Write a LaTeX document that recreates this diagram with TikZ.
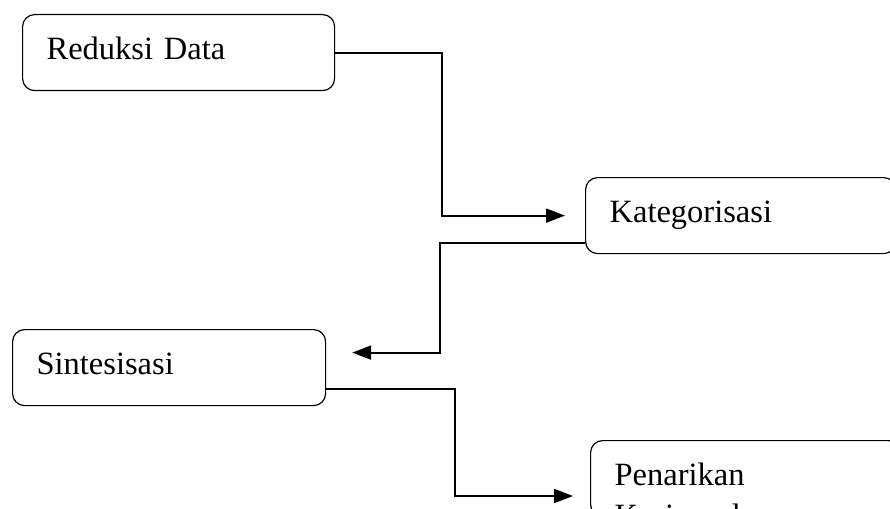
\documentclass[tikz,border=0pt]{standalone}
\usepackage{fontspec}
\setmainfont{Liberation Serif}
\usetikzlibrary{arrows.meta}

\tikzset{
    box/.style={draw, rounded corners=12pt, line width=1.2pt, anchor=north west,
        minimum height=76pt, text width=#1, align=left, inner xsep=24pt, inner ysep=0pt,
        text height=22pt, text depth=8pt, font=\fontsize{32.5}{41}\selectfont},
    link/.style={line width=2pt},
    tip/.style={link, -{Triangle[length=19pt,width=14pt]}}
}

\begin{document}
\begin{tikzpicture}[x=1pt, y=-1pt]
    \useasboundingbox (0, 0) rectangle (890, 508);
    \clip (0, 0) rectangle (890, 508);
    \path (22, 14) node[box=264pt](red) {Reduksi Data} (585, 177) node[box=262pt](kat) {Kategorisasi} (12, 329) node[box=265pt](sin) {Sintesisasi} (590, 440) node[box=262pt](pen) {Penarikan\\Kesimpulan};
    \draw[tip, shorten >=20pt] (red.east) -- ++(107, 0) |- (kat.west);
    \draw[tip, shorten >=26pt] ([shift={(0, 27)}]kat.west) -- ++(-145, 0) |- ([shift={(0, -15)}]sin.east);
    \draw[tip, shorten >=17pt] ([shift={(0, 21)}]sin.east) -- ++(129, 0) |- ([shift={(0, 56)}]pen.north west);
\end{tikzpicture}
\end{document}
